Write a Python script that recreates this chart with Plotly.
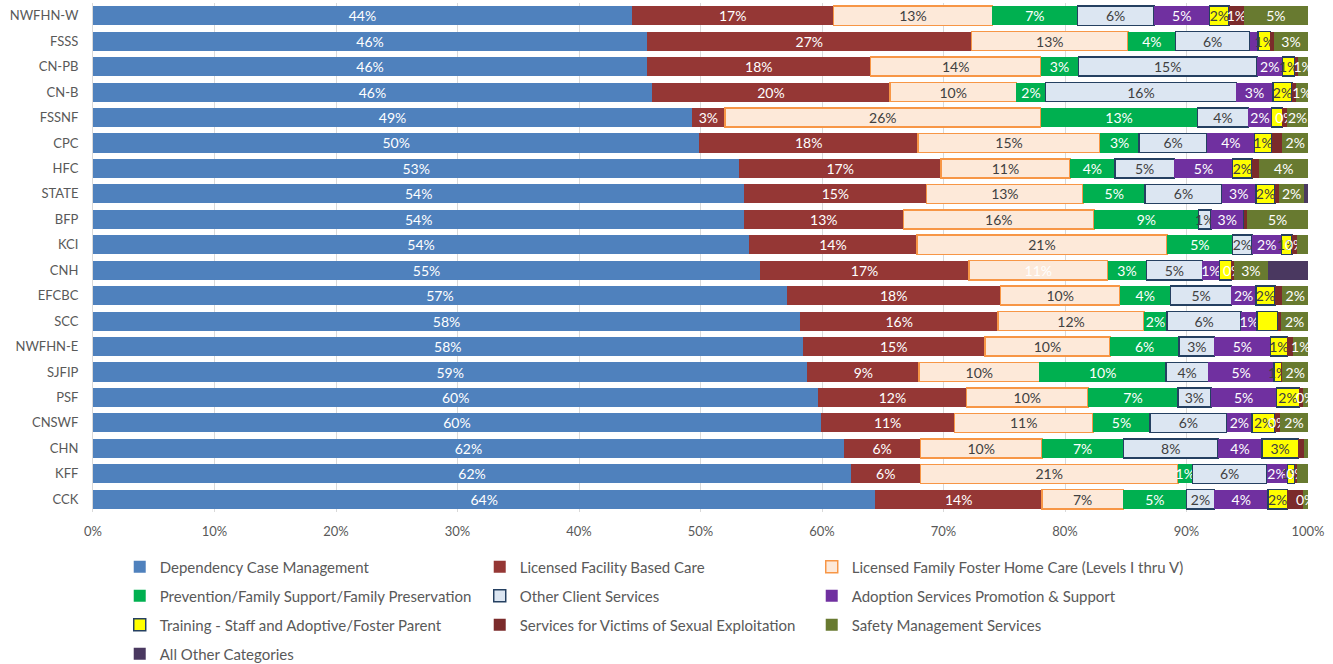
import plotly.graph_objects as go

# --- data (percent of total) ---
providers = ['NWFHN-W', 'FSSS', 'CN-PB', 'CN-B', 'FSSNF', 'CPC', 'HFC', 'STATE', 'BFP', 'KCI',
             'CNH', 'EFCBC', 'SCC', 'NWFHN-E', 'SJFIP', 'PSF', 'CNSWF', 'CHN', 'KFF', 'CCK']

dependency_case_mgmt = [44.4, 45.6, 45.6, 46.0, 49.3, 49.9, 53.2, 53.6, 53.6, 54.0,
                        54.9, 57.1, 58.2, 58.4, 58.8, 59.7, 59.9, 61.8, 62.4, 64.4]
licensed_facility = [16.6, 26.7, 18.4, 19.6, 2.7, 18.0, 16.6, 15.0, 13.1, 13.8,
                     17.2, 17.6, 16.3, 15.0, 9.2, 12.2, 11.0, 6.3, 5.7, 13.7]
family_foster_home = [13.1, 12.9, 14.0, 10.4, 26.0, 15.0, 10.6, 12.9, 15.7, 20.6,
                      11.4, 9.8, 12.0, 10.3, 9.9, 10.0, 11.4, 10.0, 21.2, 6.7]
prevention_support = [7.0, 3.9, 3.1, 2.4, 12.9, 3.2, 3.7, 5.1, 8.6, 5.4,
                      3.2, 4.2, 1.9, 5.7, 10.4, 7.4, 4.7, 6.7, 1.2, 5.2]
other_client = [6.3, 6.1, 14.7, 15.7, 4.2, 5.6, 4.9, 6.3, 1.0, 1.6,
                4.6, 5.0, 6.1, 2.9, 3.5, 2.7, 6.3, 7.8, 6.1, 2.3]
adoption = [4.6, 0.7, 2.1, 3.0, 1.9, 3.9, 4.8, 2.8, 2.7, 2.4,
            1.4, 2.0, 1.3, 4.6, 5.4, 5.4, 2.1, 3.6, 1.7, 4.4]
training = [1.6, 1.0, 1.0, 1.6, 0.9, 1.4, 1.6, 1.6, 0.0, 0.9,
            1.0, 1.6, 1.7, 1.4, 0.6, 1.9, 1.9, 3.0, 0.6, 1.6]
sexual_exploitation = [1.2, 0.3, 0.3, 0.3, 0.4, 0.9, 0.6, 0.3, 0.3, 0.4,
                       0.2, 0.6, 0.3, 0.5, 0.1, 0.3, 0.4, 0.5, 0.2, 1.3]
safety_mgmt = [5.3, 2.8, 0.8, 1.0, 1.7, 2.1, 4.0, 2.1, 5.0, 0.9,
               2.8, 2.1, 2.2, 1.2, 2.1, 0.4, 2.3, 0.3, 0.9, 0.4]
all_other = [0.0, 0.0, 0.0, 0.0, 0.0, 0.0, 0.0, 0.3, 0.0, 0.0,
             3.3, 0.0, 0.0, 0.0, 0.0, 0.0, 0.0, 0.0, 0.0, 0.0]

# data labels that are not visible in the original (hidden / overdrawn)
hidden_labels = {
    'adoption': ['FSSS'],
    'training': ['FSSNF', 'CNH', 'SCC'],
    'sexual_exploitation': ['FSSS', 'CN-PB', 'CN-B', 'CPC', 'HFC', 'STATE', 'BFP', 'EFCBC',
                            'SCC', 'NWFHN-E', 'SJFIP', 'PSF', 'CHN', 'CCK'],
    'safety_mgmt': ['KCI', 'CHN', 'KFF'],
    'all_other': providers,
}

x_ticks = [0, 10, 20, 30, 40, 50, 60, 70, 80, 90, 100]

# key, name, values, fill, border, label colour, legend row, legend column
series = [
    ('dcm', 'Dependency Case Management', dependency_case_mgmt, '#4F81BD', None, 'white', 1, 0),
    ('lfbc', 'Licensed Facility Based Care', licensed_facility, '#953735', None, 'white', 1, 1),
    ('lffh', 'Licensed Family Foster Home Care (Levels I thru V)', family_foster_home, '#FDE9D9', '#F79646', '#404040', 1, 2),
    ('prevention', 'Prevention/Family Support/Family Preservation', prevention_support, '#00B050', None, 'white', 2, 0),
    ('other_client', 'Other Client Services', other_client, '#DCE6F2', '#254061', '#404040', 2, 1),
    ('adoption', 'Adoption Services Promotion & Support', adoption, '#7030A0', None, 'white', 2, 2),
    ('training', 'Training - Staff and Adoptive/Foster Parent', training, '#FFFF00', '#254061', '#404040', 3, 0),
    ('sexual_exploitation', 'Services for Victims of Sexual Exploitation', sexual_exploitation, '#7B2B2B', None, 'white', 3, 1),
    ('safety_mgmt', 'Safety Management Services', safety_mgmt, '#687A30', None, 'white', 3, 2),
    ('all_other', 'All Other Categories', all_other, '#4A3860', None, 'white', 4, 0),
]

FONT = 'Lato'
legend_widths = [315, 287, 330]

fig = go.Figure()
for key, name, vals, fill, border, txtcol, lrow, lcol in series:
    hide = hidden_labels.get(key, [])
    labels = ['' if (v <= 0 or p in hide) else f'{v:.0f}%' for p, v in zip(providers, vals)]
    txt_colors = [txtcol] * len(vals)
    if key == 'lffh':
        txt_colors[providers.index('CNH')] = 'white'   # as in the original
    fig.add_trace(go.Bar(
        y=providers, x=vals, name=name, orientation='h',
        marker=dict(color=fill,
                    line=dict(color=border or fill, width=1.5 if border else 0)),
        text=labels, texttemplate='%{text}', textposition='inside',
        insidetextanchor='middle', textangle=0,
        textfont=dict(color=txt_colors, size=14, family=FONT),
        legend='legend' if lrow == 1 else f'legend{lrow}',
        legendwidth=legend_widths[lcol],
        hoverinfo='name+x',
    ))

legend_common = dict(orientation='h', traceorder='normal', x=0.022, xanchor='left', yanchor='middle',
                     font=dict(size=15, family=FONT, color='#595959'),
                     bgcolor='rgba(0,0,0,0)', itemclick=False)
legend_y = {1: -0.108, 2: -0.165, 3: -0.222, 4: -0.279}

fig.update_layout(
    barmode='stack', barnorm='percent', bargap=0.25,
    width=1333, height=664,
    margin=dict(l=93, r=25, t=3, b=152, autoexpand=False),
    plot_bgcolor='white', paper_bgcolor='white',
    font=dict(family=FONT, size=13, color='#595959'),
    uniformtext=dict(minsize=14, mode='show'),
    xaxis=dict(range=[0, 100], tickvals=x_ticks, ticktext=[f'{t}%' for t in x_ticks],
               showgrid=True, gridcolor='#D9D9D9', gridwidth=1,
               zeroline=False, showline=False, ticks='', ticklabelstandoff=10,
               automargin=False,
               tickfont=dict(size=13, color='#595959'), fixedrange=True),
    yaxis=dict(autorange='reversed', showline=True, linecolor='#D9D9D9',
               ticks='', ticklabelstandoff=11, automargin=False,
               tickfont=dict(size=13, color='#595959'), fixedrange=True),
    legend=dict(legend_common, y=legend_y[1]),
    legend2=dict(legend_common, y=legend_y[2]),
    legend3=dict(legend_common, y=legend_y[3]),
    legend4=dict(legend_common, y=legend_y[4]),
)

# page has a default 8px body margin; drop it so the figure sits at the window corner
fig.write_html('out.html', config={'displayModeBar': False},
               post_script="document.body.style.margin = '0';")
